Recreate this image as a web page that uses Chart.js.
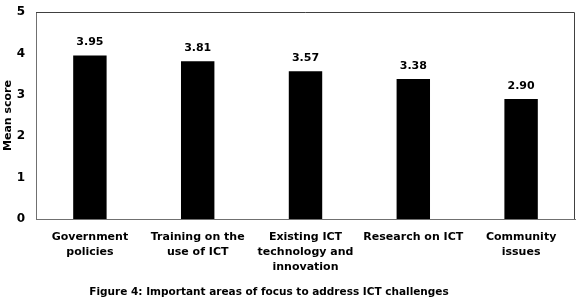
<!DOCTYPE html>
<html>
<head>
<meta charset="utf-8">
<script src="https://cdn.jsdelivr.net/npm/chart.js@4"></script>
<style>
  html, body { margin: 0; padding: 0; background: #fff; }
  #wrap { width: 580px; height: 302px; }
</style>
</head>
<body>
<div id="wrap"><canvas id="focusChart" width="580" height="302"></canvas></div>
<script>
// Categories (multi-line labels) and mean scores
const categories = [
    ['Government', 'policies'],
    ['Training on the', 'use of ICT'],
    ['Existing ICT', 'technology and', 'innovation'],
    ['Research on ICT'],
    ['Community', 'issues']
];
const meanScores = [3.95, 3.81, 3.57, 3.38, 2.90];
const yTicks = [0, 1, 2, 3, 4, 5];
const figureTitle = 'Figure 4: Important areas of focus to address ICT challenges';

const FONT = '"DejaVu Sans", Verdana, sans-serif';

// Draws the value above each bar, the top/right edges of the plot box and the caption
const labelPlugin = {
    id: 'barLabels',
    afterDatasetsDraw(chart) {
        const c = chart.ctx;
        const meta = chart.getDatasetMeta(0);
        c.save();
        c.font = 'bold 11px ' + FONT;
        c.fillStyle = '#000';
        c.textAlign = 'center';
        c.textBaseline = 'middle';
        meta.data.forEach((bar, i) => {
            c.fillText(meanScores[i].toFixed(2), bar.x, bar.y - 13);
        });
        const a = chart.chartArea;
        c.strokeStyle = '#404040';
        c.lineWidth = 1;
        c.beginPath();
        c.moveTo(a.left, a.top + 0.5);
        c.lineTo(a.right - 0.5, a.top + 0.5);
        c.lineTo(a.right - 0.5, a.bottom);
        c.stroke();
        // figure caption, centred a little left of the canvas middle as in the source
        c.font = 'bold 10.5px ' + FONT;
        c.fillText(figureTitle, 269, 292);
        c.restore();
    }
};

const ctx = document.getElementById('focusChart').getContext('2d');
new Chart(ctx, {
    type: 'bar',
    data: {
        labels: categories,
        datasets: [{
            data: meanScores,
            backgroundColor: '#000',
            borderWidth: 0,
            barPercentage: 0.31,
            categoryPercentage: 1
        }]
    },
    options: {
        responsive: false,
        animation: false,
        layout: { padding: { top: 12, right: 5, left: 0, bottom: 19 } },
        plugins: {
            legend: { display: false },
            tooltip: { enabled: false },
            title: { display: false }
        },
        scales: {
            x: {
                grid: { display: false, drawTicks: false },
                border: { color: '#707070' },
                ticks: {
                    color: '#000',
                    padding: 11,
                    maxRotation: 0,
                    autoSkip: false,
                    font: { family: FONT, size: 11, weight: 'bold', lineHeight: 1.35 }
                },
                afterFit(scale) { scale.height = 64; }
            },
            y: {
                min: 0,
                max: 5,
                afterBuildTicks(scale) { scale.ticks = yTicks.map(v => ({ value: v })); },
                grid: { display: false, drawTicks: false },
                border: { color: '#707070' },
                ticks: {
                    color: '#000',
                    padding: 11,
                    font: { family: FONT, size: 12, weight: 'bold' }
                },
                title: {
                    display: true,
                    text: 'Mean score',
                    color: '#000',
                    padding: 2,
                    font: { family: FONT, size: 11, weight: 'bold' }
                },
                afterFit(scale) {
                    scale.width = 36;
                    // tick padding would otherwise push the plot top down
                    scale.paddingTop = 0;
                    scale.paddingBottom = 0;
                }
            }
        }
    },
    plugins: [labelPlugin]
});
</script>
</body>
</html>
